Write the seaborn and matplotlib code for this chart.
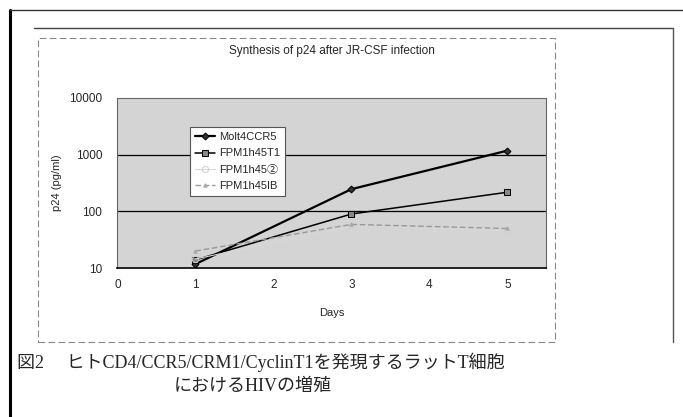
import pandas as pd
import matplotlib.pyplot as plt
import seaborn as sns
from matplotlib.lines import Line2D
from matplotlib.patches import Rectangle

# Data (p24 in pg/ml)
days = [1, 3, 5]
molt4_ccr5 = [11.8, 247, 1180]
fpm_t1 = [14, 90, 218]
fpm_2 = [14.5, 55, 46]
fpm_ib = [20, 59, 50]

series_names = ['Molt4CCR5', 'FPM1h45T1', 'FPM1h45②', 'FPM1h45IB']
x_ticks = [0, 1, 2, 3, 4, 5]
y_ticks = [10, 100, 1000, 10000]
y_tick_labels = ['10', '100', '1000', '10000']

title = 'Synthesis of p24 after JR-CSF infection'
caption1 = '図2\u3000 ヒトCD4/CCR5/CRM1/CyclinT1を発現するラットT細胞'
caption2 = 'におけるHIVの増殖'

df = pd.DataFrame({
    'Days': days * 4,
    'p24': molt4_ccr5 + fpm_t1 + fpm_2 + fpm_ib,
    'series': [s for s in series_names for _ in days],
})

sns.set_theme(style='white')
plt.rcParams['font.family'] = ['Liberation Sans', 'Noto Sans CJK JP', 'DejaVu Sans']

fig = plt.figure(figsize=(6.83, 4.17), dpi=100)

# scan frame lines
fig.add_artist(Line2D([0.015, 0.015], [0.0, 0.976], color='black', lw=2.2))
fig.add_artist(Line2D([0.015, 1.0], [0.976, 0.976], color='#333333', lw=1.0))
fig.add_artist(Line2D([0.05, 0.985], [0.933, 0.933], color='#444444', lw=1.0))
fig.add_artist(Line2D([0.985, 0.985], [0.933, 0.18], color='#555555', lw=1.0))
# dashed chart-area box
fig.add_artist(Rectangle((0.056, 0.18), 0.757, 0.73, fill=False,
                         ec='#888888', lw=0.8, ls=(0, (6, 3))))

ax = fig.add_axes([0.172, 0.357, 0.628, 0.408])
ax.set_facecolor('#d4d4d4')

styles = {
    'Molt4CCR5': dict(color='black', marker='D', markersize=3.5, lw=1.6, ls='-',
                      mfc='#333333', mec='black'),
    'FPM1h45T1': dict(color='black', marker='s', markersize=4, lw=1.1, ls='-',
                      mfc='#888888', mec='black'),
    'FPM1h45②': dict(color='#d8d8d8', marker='o', markersize=4.5, lw=0.8, ls='-',
                      mfc='none', mec='#d0d0d0'),
    'FPM1h45IB': dict(color='#999999', marker='^', markersize=2.5, lw=1.0,
                      ls=(0, (4, 2)), mfc='#aaaaaa', mec='#aaaaaa'),
}

for name in series_names:
    sub = df[df['series'] == name]
    st = styles[name]
    sns.lineplot(data=sub, x='Days', y='p24', ax=ax, color=st['color'],
                 lw=st['lw'], ls=st['ls'], marker=st['marker'],
                 markersize=st['markersize'], markerfacecolor=st['mfc'],
                 markeredgecolor=st['mec'], label=name, zorder=3)

ax.set_yscale('log')
ax.set_ylim(10, 10000)
ax.set_xlim(0, 5.5)
ax.set_xticks(x_ticks)
ax.set_yticks(y_ticks)
ax.set_yticklabels(y_tick_labels)
ax.minorticks_off()
ax.tick_params(axis='y', labelsize=8.5, length=0, pad=11)
ax.tick_params(axis='x', labelsize=8.5, length=2, width=0.6, color='#555555',
               direction='in', pad=8)
for y in [100, 1000]:
    ax.axhline(y, color='black', lw=0.9, zorder=1)
for side in ['top', 'right', 'left']:
    ax.spines[side].set_color('#666666')
    ax.spines[side].set_linewidth(0.8)
ax.spines['bottom'].set_color('black')
ax.spines['bottom'].set_linewidth(1.2)

ax.set_xlabel('Days', fontsize=8, labelpad=12)
ax.set_ylabel('p24 (pg/ml)', fontsize=8, labelpad=5)
ax.set_title(title, fontsize=8.5, pad=32)

leg = ax.legend(loc='upper left', bbox_to_anchor=(0.155, 0.86), fontsize=8,
                frameon=True, fancybox=False, edgecolor='#555555',
                framealpha=1, handlelength=1.8, handletextpad=0.4,
                borderpad=0.45, labelspacing=0.55)
leg.get_frame().set_linewidth(0.8)

cap_font = ['Liberation Serif', 'Noto Sans CJK JP', 'DejaVu Sans']
fig.text(0.025, 0.118, caption1, fontsize=13, family=cap_font)
fig.text(0.255, 0.062, caption2, fontsize=13, family=cap_font)

fig.savefig('out.png', dpi=100)
